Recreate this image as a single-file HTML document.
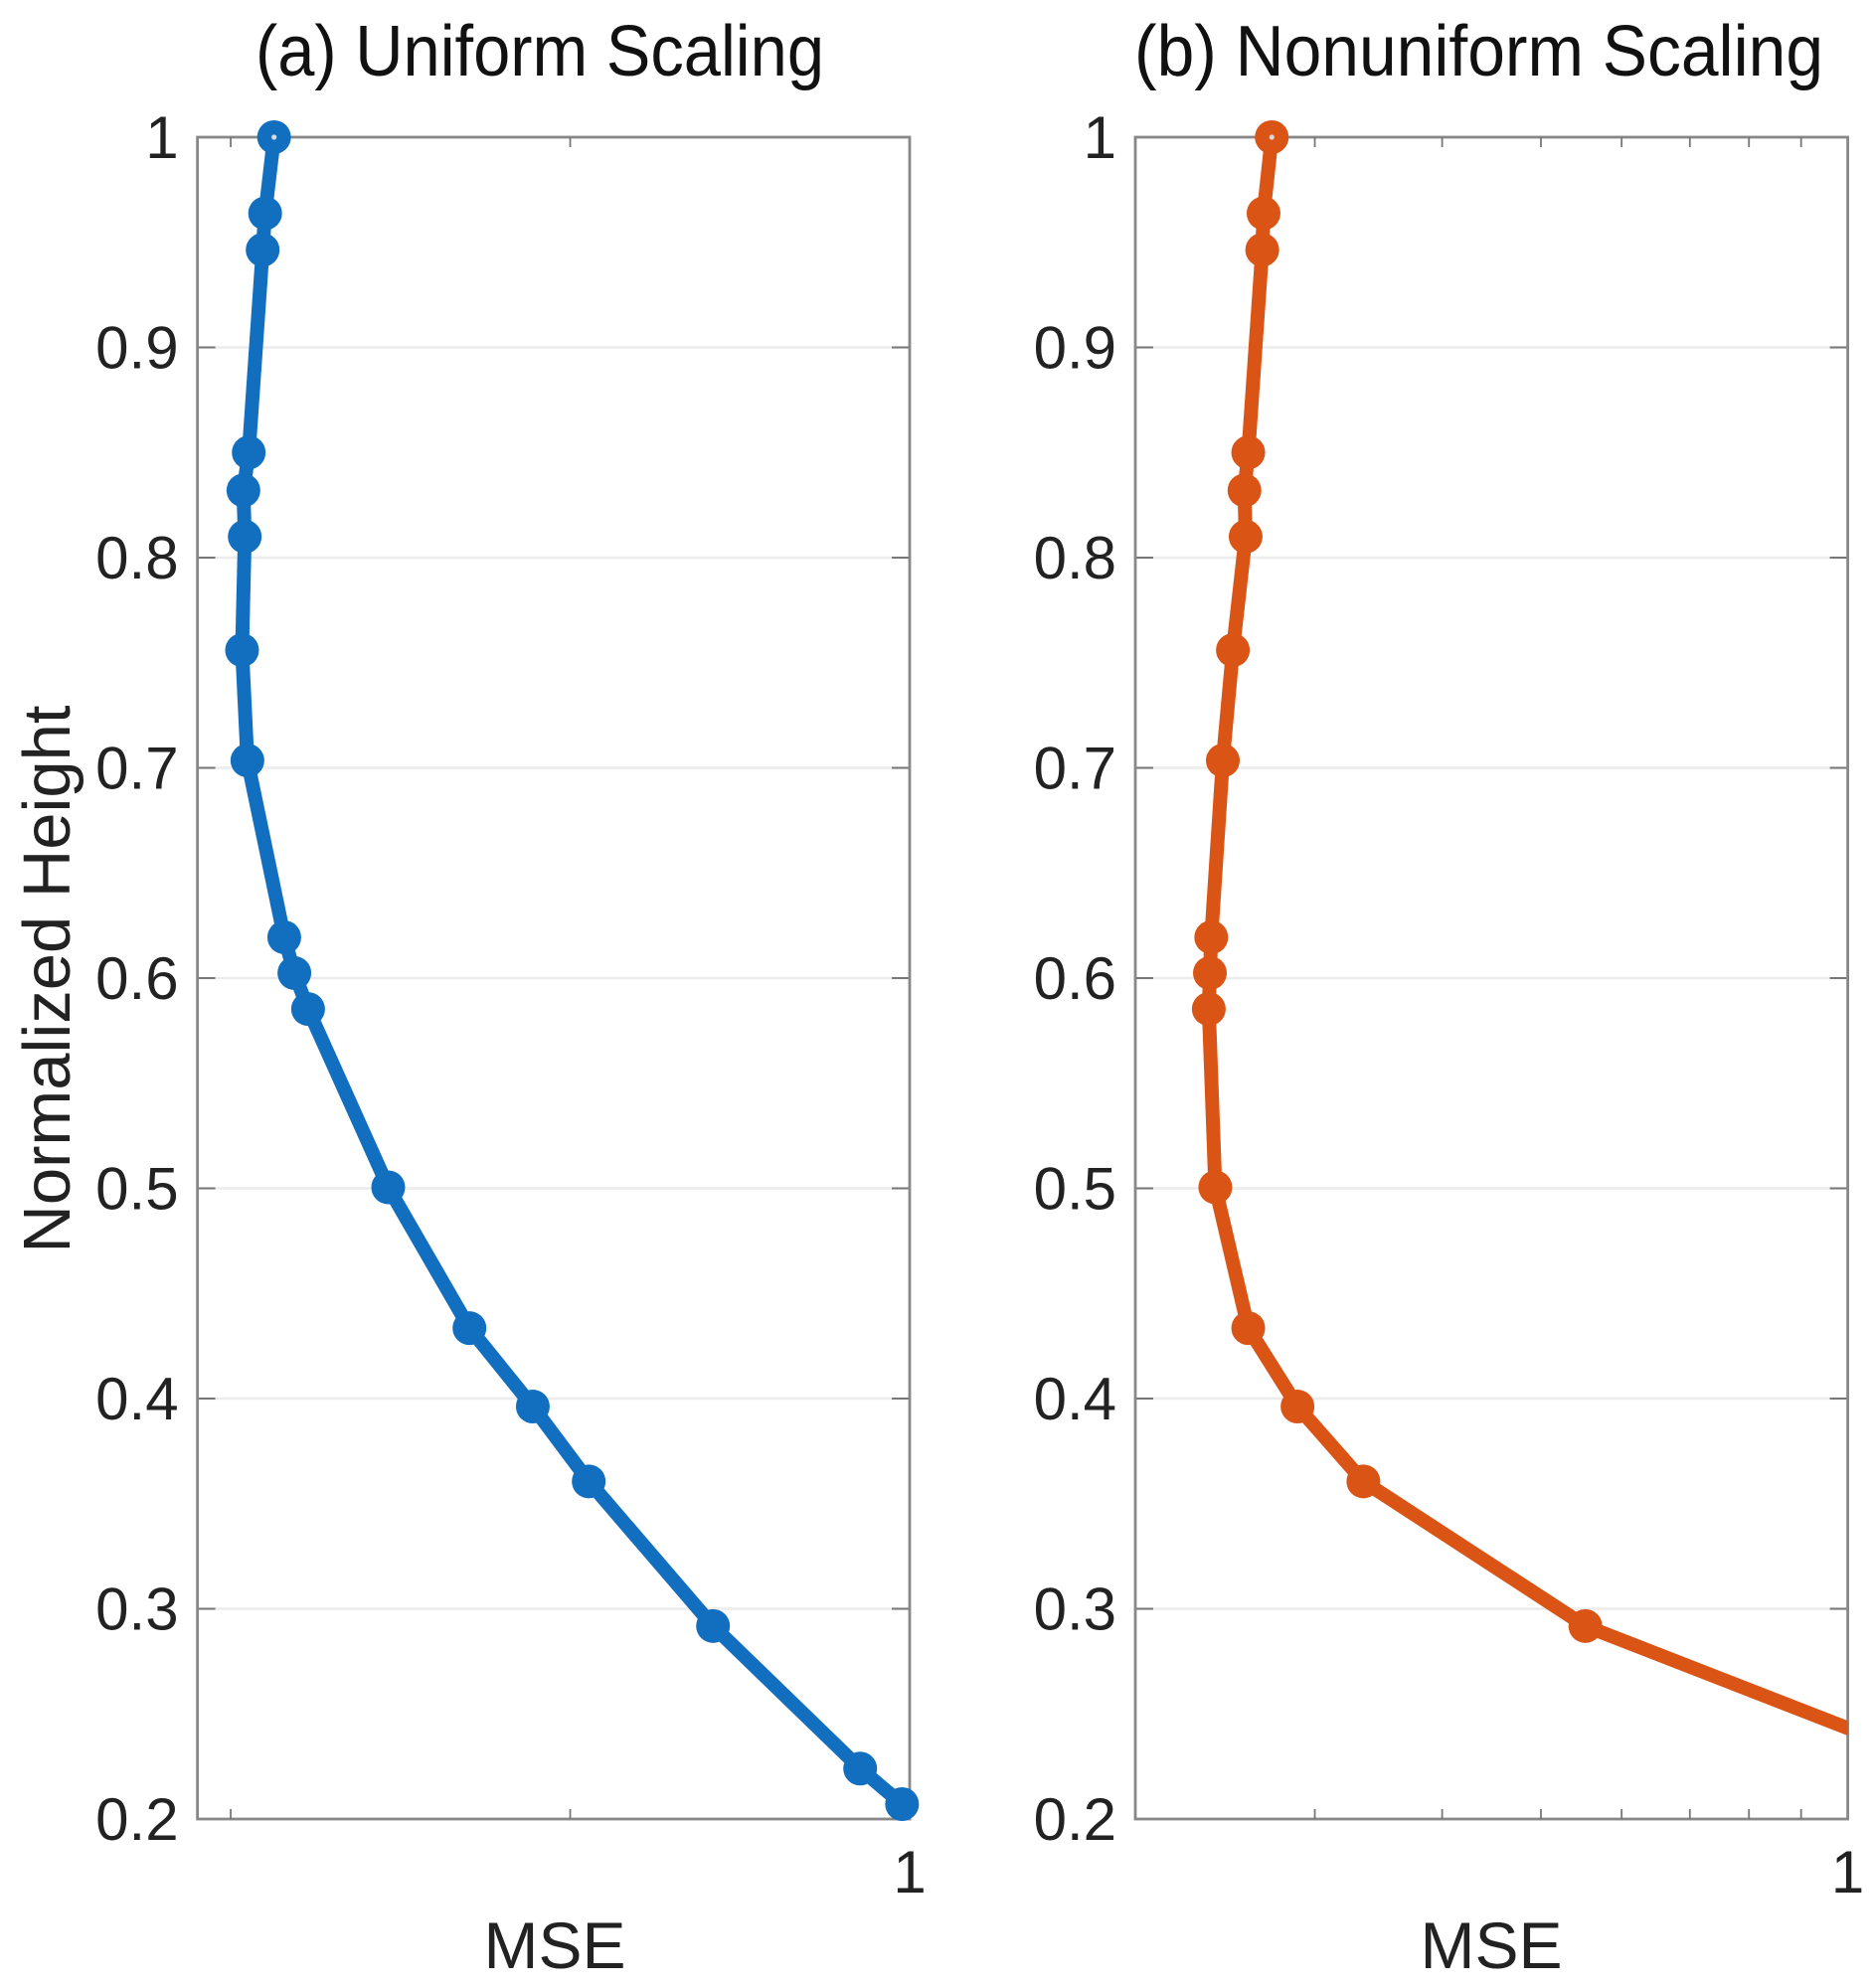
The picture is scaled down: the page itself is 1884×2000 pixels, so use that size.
<!DOCTYPE html>
<html lang="en">
<head>
<meta charset="utf-8">
<title>MSE versus Normalized Height</title>
<style>
  html, body { margin: 0; padding: 0; background: #fff; }
  svg { display: block; }
  text { font-family: "Liberation Sans", sans-serif; fill: #222222; }
</style>
</head>
<body>
<svg id="figure" xmlns="http://www.w3.org/2000/svg" width="1884" height="2000" viewBox="0 0 1884 2000">
  <rect x="0" y="0" width="1884" height="2000" fill="#ffffff"/>
  <text x="257" y="76" font-size="72" textLength="572" lengthAdjust="spacingAndGlyphs" style="fill:#111">(a) Uniform Scaling</text>
  <text x="1141" y="76" font-size="72" textLength="693" lengthAdjust="spacingAndGlyphs" style="fill:#111">(b) Nonuniform Scaling</text>
  <text transform="translate(70 985) rotate(-90)" text-anchor="middle" font-size="67">Normalized Height</text>
  <text x="558" y="1980" text-anchor="middle" font-size="66">MSE</text>
  <text x="1500" y="1980" text-anchor="middle" font-size="66">MSE</text>
  <g id="panel-a"></g>
  <g id="panel-b"></g>
</svg>
<script>
const heights = [1, 0.9638, 0.9464, 0.85, 0.832, 0.81, 0.756, 0.7035, 0.6194, 0.6024, 0.5853, 0.5005, 0.4335, 0.3962, 0.3606, 0.2918, 0.224, 0.2071];
const mseUniform = [0.01342, 0.01263, 0.01242, 0.0113, 0.0109, 0.011, 0.0108, 0.0112, 0.01438, 0.0154, 0.0169, 0.0291, 0.0505, 0.0776, 0.1134, 0.2635, 0.7148, 0.9497];
const mseNonuniform = [0.2722, 0.2672, 0.2664, 0.2581, 0.2559, 0.2566, 0.2493, 0.2437, 0.2374, 0.2367, 0.2361, 0.2396, 0.2581, 0.2885, 0.3348, 0.5528, 1.264, 1.5];
const yTickValues = [0.2, 0.3, 0.4, 0.5, 0.6, 0.7, 0.8, 0.9, 1];
const yTickLabels = ["0.2", "0.3", "0.4", "0.5", "0.6", "0.7", "0.8", "0.9", "1"];
const xTicksUniform = [0.01, 0.1, 1];
const xTicksNonuniform = [0.3, 0.4, 0.5, 0.6, 0.7, 0.8, 0.9, 1];
const xTickLabelValues = [1];
const xTickLabels = ["1"];

const SVG_NS = "http://www.w3.org/2000/svg";
const PLOT_TOP = 138;
const PLOT_BOTTOM = 1830;
const Y_MIN = 0.2;
const Y_MAX = 1;

function yScale(v) {
  return PLOT_BOTTOM - (v - Y_MIN) / (Y_MAX - Y_MIN) * (PLOT_BOTTOM - PLOT_TOP);
}

function makeXScale(left, right, xMin, xMax) {
  const lo = Math.log10(xMin);
  const hi = Math.log10(xMax);
  return function (v) {
    return left + (Math.log10(v) - lo) / (hi - lo) * (right - left);
  };
}

function create(tag, parent, attrs) {
  const node = document.createElementNS(SVG_NS, tag);
  for (const key in attrs) node.setAttribute(key, attrs[key]);
  parent.appendChild(node);
  return node;
}

function drawPanel(cfg) {
  const g = document.getElementById(cfg.id);
  const xScale = makeXScale(cfg.left, cfg.right, cfg.xMin, cfg.xMax);

  const defs = create("defs", g, {});
  const clip = create("clipPath", defs, { id: cfg.id + "-clip" });
  create("rect", clip, { x: cfg.left, y: PLOT_TOP, width: cfg.right - cfg.left, height: PLOT_BOTTOM - PLOT_TOP });

  yTickValues.forEach(function (v, i) {
    const y = yScale(v);
    if (v > Y_MIN && v < Y_MAX) {
      const grid = create("line", g, { x1: cfg.left, x2: cfg.right, y1: y, y2: y, stroke: "#ececec", "stroke-width": 2.5 });
      
      
      const tickL = create("line", g, { x1: cfg.left, x2: cfg.left + 18, y1: y, y2: y, stroke: "#777777", "stroke-width": 2 });
      
      
      const tickR = create("line", g, { x1: cfg.right - 18, x2: cfg.right, y1: y, y2: y, stroke: "#777777", "stroke-width": 2 });
      
      
    }
    const label = create("text", g, { x: cfg.left - 19, y: y + 21, "text-anchor": "end", "font-size": 60 });
    
    
    label.textContent = yTickLabels[i];
  });

  const frame = create("rect", g, { x: cfg.left, y: PLOT_TOP, width: cfg.right - cfg.left, height: PLOT_BOTTOM - PLOT_TOP, fill: "none", stroke: "#888888", "stroke-width": 2.8 });
  
  

  cfg.xTicks.forEach(function (v) {
    const x = xScale(v);
    if (v < cfg.xMax) {
      const tickB = create("line", g, { x1: x, x2: x, y1: PLOT_BOTTOM, y2: PLOT_BOTTOM - 10, stroke: "#777777", "stroke-width": 1.8 });
      
      
      const tickT = create("line", g, { x1: x, x2: x, y1: PLOT_TOP, y2: PLOT_TOP + 10, stroke: "#777777", "stroke-width": 1.8 });
      
      
    }
  });

  xTickLabelValues.forEach(function (v, i) {
    const label = create("text", g, { x: xScale(v), y: 1904, "text-anchor": "middle", "font-size": 60 });
    
    
    label.textContent = xTickLabels[i];
  });

  const points = cfg.values.map(function (v, i) {
    return xScale(v).toFixed(2) + "," + yScale(heights[i]).toFixed(2);
  }).join(" ");
  const line = create("polyline", g, { points: points, fill: "none", stroke: cfg.color, "stroke-width": 14, "stroke-linejoin": "round", "clip-path": "url(#" + cfg.id + "-clip)" });
  
  

  cfg.values.forEach(function (v, i) {
    if (v > cfg.xMax) return;
    const cx = xScale(v);
    const cy = yScale(heights[i]);
    const marker = create("circle", g, { cx: cx, cy: cy, r: 17, fill: cfg.color });
    
    
    if (heights[i] === Y_MAX) {
      const dot = create("circle", g, { cx: cx, cy: cy, r: 2.6, fill: "#d9d9d9" });
      
      
    }
  });
}

drawPanel({ id: "panel-a", left: 198.6, right: 915, xMin: Math.pow(10, -2.098), xMax: 1, xTicks: xTicksUniform, values: mseUniform, color: "#126fbf", seriesName: "uniform-scaling" });
drawPanel({ id: "panel-b", left: 1142, right: 1858.6, xMin: 0.2, xMax: 1, xTicks: xTicksNonuniform, values: mseNonuniform, color: "#da5415", seriesName: "nonuniform-scaling" });
</script>
</body>
</html>
